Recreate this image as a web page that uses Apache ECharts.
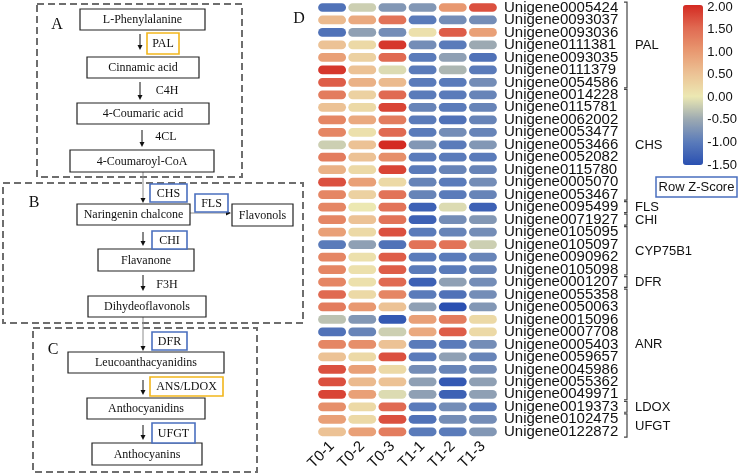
<!DOCTYPE html>
<html><head><meta charset="utf-8">
<script src="https://cdn.jsdelivr.net/npm/echarts@6/dist/echarts.min.js"></script>
<style>html,body{margin:0;padding:0;background:#fff}#c{width:740px;height:474px}</style>
</head><body><div id="c"></div>
<script>
const samples = ['T0-1','T0-2','T0-3','T1-1','T1-2','T1-3'];
const genes = ['Unigene0005424','Unigene0093037','Unigene0093036','Unigene0111381','Unigene0093035','Unigene0111379','Unigene0054586',
 'Unigene0014228','Unigene0115781','Unigene0062002','Unigene0053477','Unigene0053466','Unigene0052082','Unigene0115780','Unigene0005070','Unigene0053467',
 'Unigene0095499','Unigene0071927','Unigene0105095','Unigene0105097','Unigene0090962','Unigene0105098','Unigene0001207',
 'Unigene0055358','Unigene0050063','Unigene0015096','Unigene0007708','Unigene0005403','Unigene0059657','Unigene0045986','Unigene0055362','Unigene0049971',
 'Unigene0019373','Unigene0102475','Unigene0122872'];
const T0_1 = [-1.1,0.6,-1.1,0.5,0.9,1.9,1.6,1.3,0.5,1.2,1.2,-0.2,1.3,0.7,1.7,1.2,1.2,1.2,0.9,-1.0,1.2,1.2,1.2,1.5,1.3,-0.3,-1.1,1.2,0.5,1.7,1.7,1.8,1.1,0.9,0.5];
const T0_2 = [-0.2,0.8,-0.6,0.2,0.3,0.5,0.7,0.3,0.2,0.8,0.1,0.5,0.5,0.2,0.9,0.3,0.0,0.5,0.2,-0.6,0.1,0.1,0.1,0.2,1.0,-0.7,-0.9,1.1,0.2,0.9,0.6,0.9,0.2,0.2,0.9];
const T0_3 = [-0.7,1.4,-0.8,1.9,1.5,-0.1,0.6,1.5,1.8,1.3,1.5,2.0,1.1,1.8,0.2,1.4,1.4,1.4,1.7,-1.1,1.6,1.6,1.5,1.2,0.5,-1.4,-0.2,0.5,1.7,0.2,0.5,-0.1,1.5,1.7,1.3];
const T1_1 = [-0.7,-1.0,0.1,-0.8,-1.0,-1.0,-1.0,-1.0,-0.9,-1.0,-1.0,-0.7,-1.0,-1.0,-0.9,-0.9,-1.3,-1.3,-1.0,1.4,-1.0,-1.0,-1.3,-1.0,-0.6,0.9,0.8,-1.0,-1.0,-0.8,-0.6,-0.6,-1.0,-1.1,-1.0];
const T1_2 = [1.0,-0.8,1.6,-1.0,-0.6,-0.4,-1.0,-1.0,-1.0,-1.1,-0.8,-1.0,-1.0,-0.9,-1.0,-1.0,-0.1,-0.8,-0.9,1.4,-1.0,-1.0,-0.6,-1.1,-1.5,1.3,1.6,-1.0,-0.6,-0.9,-1.4,-1.3,-0.8,-0.8,-1.0];
const T1_3 = [1.7,-0.8,0.9,-0.5,-1.1,-1.0,-0.8,-0.9,-0.9,-0.9,-0.9,-0.7,-1.0,-0.9,-0.8,-0.9,-1.3,-0.7,-0.8,-0.2,-0.9,-0.9,-0.8,-0.8,-0.7,0.2,0.2,-0.8,-0.9,-0.8,-0.6,-0.6,-1.0,-0.8,-0.7];
const groupNames = ['PAL','CHS','FLS','CHI','CYP75B1','DFR','ANR','LDOX','UFGT'];
const groupStart = [0,7,16,17,18,22,23,32,33];
const groupEnd   = [6,15,16,17,21,22,31,32,34];
const scaleTicks = [-1.5,-1.0,-0.5,0,0.5,1.0,1.5,2.0];

const columns = [T0_1,T0_2,T0_3,T1_1,T1_2,T1_3];
const cells = [];
columns.forEach((col,ci)=>col.forEach((v,ri)=>cells.push([ci,ri,v])));

// ---- pathway diagram (panels A-C) ----
const SERIF = '"Liberation Serif","Times New Roman",serif';
const SANS = '"Liberation Sans",Arial,sans-serif';
const ORANGE = '#f2b61c', BLUE = '#4a6fbf';
const nodes = [
 ['L-Phenylalanine',80,9,125,21],['Cinnamic acid',87,57,112,21],['4-Coumaric acid',77,103,132,21],['4-Coumaroyl-CoA',70,150,144,22],
 ['Naringenin chalcone',77,204,113,21],['Flavonols',232,204,61,22],['Flavanone',98,249,96,22],['Dihydeoflavonols',88,296,118,21],
 ['Leucoanthacyanidins',68,352,156,21],['Anthocyanidins',87,398,118,21],['Anthocyanins',92,443,110,22]];
const enzymes = [
 ['PAL',147,33,32,21,ORANGE],['CHS',150,184,37,18,BLUE],['FLS',195,194,33,18,BLUE],['CHI',152,231,35,18,BLUE],
 ['DFR',152,332,35,18,BLUE],['ANS/LDOX',150,377,73,19,ORANGE],['UFGT',152,423,43,20,BLUE]];
const plainEnz = [['C4H',167,91],['4CL',166,137],['F3H',167,285]];
const panels = [['A',37,4,205,173,57,25],['B',3,183,300,140,34,203],['C',33,328,224,144,53,350]];
const g = [];
function txt(t,x,y,size,fam,align){return {type:'text',z:10,style:{text:t,x:x,y:y,font:size+'px '+fam,fill:'#111',textAlign:align||'center',align:align||'center',textVerticalAlign:'middle',verticalAlign:'middle'}};}
panels.forEach(p=>{
 g.push({type:'rect',z:1,shape:{x:p[1],y:p[2],width:p[3],height:p[4]},style:{fill:'none',stroke:'#6e6e6e',lineWidth:2,lineDash:[7,4]}});
 g.push(txt(p[0],p[5],p[6],16,SERIF));
});
function vArrow(x,y1,y2,color){
 g.push({type:'line',z:5,shape:{x1:x,y1:y1,x2:x,y2:y2-4},style:{stroke:color,lineWidth:1}});
 g.push({type:'polygon',z:5,shape:{points:[[x-2.5,y2-5],[x+2.5,y2-5],[x,y2]]},style:{fill:'#111'}});
}
[[140,34,50],[140,82,100],[142,130,147],[143,232,246],[143,275,291],[143,380,395],[143,425,440]].forEach(a=>vArrow(a[0],a[1],a[2],'#111'));
vArrow(143,172,203,'#8c8c8c');
vArrow(143,317,351,'#8c8c8c');
g.push({type:'line',z:5,shape:{x1:190,y1:213,x2:227,y2:213},style:{stroke:'#8c8c8c',lineWidth:1}});
g.push({type:'polygon',z:5,shape:{points:[[226,210.5],[226,215.5],[231,213]]},style:{fill:'#111'}});
nodes.forEach(n=>{
 g.push({type:'rect',z:6,shape:{x:n[1],y:n[2],width:n[3],height:n[4]},style:{fill:'#fff',stroke:'#222',lineWidth:1.2}});
 g.push(txt(n[0],n[1]+n[3]/2,n[2]+n[4]/2+0.5,12,SERIF));
});
enzymes.forEach(e=>{
 g.push({type:'rect',z:6,shape:{x:e[1],y:e[2],width:e[3],height:e[4]},style:{fill:'#fff',stroke:e[5],lineWidth:1.6}});
 g.push(txt(e[0],e[1]+e[3]/2,e[2]+e[4]/2+0.5,12,SERIF));
});
plainEnz.forEach(e=>g.push(txt(e[0],e[1],e[2],12,SERIF)));
g.push(txt('D',299,19,16,SERIF));
// Row Z-Score legend box
g.push({type:'rect',z:6,shape:{x:656,y:177,width:81,height:20},style:{fill:'#fff',stroke:BLUE,lineWidth:1.5}});
g.push(txt('Row Z-Score',696.5,187.5,13,SANS));

const chart = echarts.init(document.getElementById('c'),null,{renderer:'canvas'});
chart.setOption({
 backgroundColor:'#fff',
 animation:false,
 grid:[{left:317,top:1,width:181,height:437},{left:683,top:7,width:20,height:158}],
 xAxis:[
  {type:'category',data:samples,gridIndex:0,position:'bottom',axisLine:{show:false},axisTick:{show:false},
   axisLabel:{rotate:45,margin:6,fontSize:15,color:'#111',fontFamily:SANS}},
  {type:'value',gridIndex:1,show:false}],
 yAxis:[
  {type:'category',data:genes,gridIndex:0,inverse:true,position:'right',axisLine:{show:false},axisTick:{show:false},
   axisLabel:{margin:6,fontSize:15,color:'#111',fontFamily:SANS,interval:0}},
  {type:'value',gridIndex:1,min:scaleTicks[0],max:scaleTicks[scaleTicks.length-1],interval:0.5,position:'right',
   axisLine:{show:false},axisTick:{show:false},splitLine:{show:false},
   axisLabel:{margin:7,fontSize:13,color:'#111',fontFamily:SANS,formatter:v=>v.toFixed(2)}}],
 visualMap:{type:'continuous',min:-1.5,max:2,seriesIndex:0,dimension:2,left:683,top:5,itemWidth:20,itemHeight:160,
  calculable:false,padding:0,hoverLink:false,
  inRange:{color:['#2a50b1','#5a7bba','#9ca9b2','#ece8b2','#ecc295','#e89870','#e06a52','#d42a22']}},
 graphic:{elements:g},
 series:[
  {type:'custom',xAxisIndex:0,yAxisIndex:0,data:cells,encode:{x:0,y:1},
   renderItem:function(params,api){
     const c = api.coord([api.value(0),api.value(1)]);
     const s = api.size([1,1]);
     const w = s[0]*0.925, h = s[1]*0.7;
     return {type:'rect',shape:{x:c[0]-w/2,y:c[1]-h/2,width:w,height:h,r:h/2},style:{fill:api.visual('color')}};
   }},
  {type:'custom',xAxisIndex:0,yAxisIndex:0,clip:false,silent:true,
   data:groupStart.map((s,i)=>[5,s,groupEnd[i]]),encode:{x:0,y:1},
   renderItem:function(params,api){
     const i = params.dataIndex;
     const s = api.size([1,1]);
     const top = api.coord([5,groupStart[i]]);
     const bot = api.coord([5,groupEnd[i]]);
     const bx = top[0] + s[0]/2 + 129;
     const y1 = top[1]-s[1]/2+0.8, y2 = bot[1]+s[1]/2-0.8;
     return {type:'group',children:[
       {type:'polyline',shape:{points:[[bx-3,y1],[bx,y1],[bx,y2],[bx-3,y2]]},style:{stroke:'#444',lineWidth:1.2,fill:null}},
       {type:'text',style:{text:groupNames[i],x:bx+8,y:(y1+y2)/2+0.5,font:'13px '+SANS,fill:'#111',textAlign:'left',align:'left',textVerticalAlign:'middle',verticalAlign:'middle'}}
     ]};
   }}
 ]
});
</script></body></html>
